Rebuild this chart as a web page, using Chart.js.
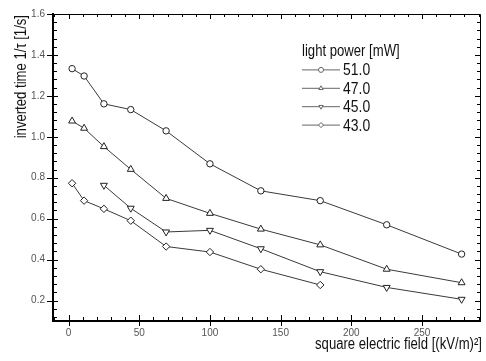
<!DOCTYPE html>
<html lang="en">
<head>
  <meta charset="UTF-8">
  <title>Inverted time vs square electric field</title>
  <script src="https://cdn.jsdelivr.net/npm/chart.js"></script>
  <style>
    body {
      margin: 0;
      background-color: #fff;
    }
    .chart-box {
      width: 486px;
      height: 361px;
    }
  </style>
</head>
<body>
  <div class="chart-box">
    <canvas id="tauChart"></canvas>
  </div>
  <script>
    // square electric field values (kV/m)^2
    var fieldSq = [2.5, 11, 25, 44, 69, 100, 136, 178, 225, 278];
    // inverted time 1/tau for each light power, null = not measured
    var p51 = [1.333, 1.297, 1.161, 1.133, 1.029, 0.868, 0.736, 0.688, 0.570, 0.427];
    var p47 = [1.077, 1.042, 0.952, 0.841, 0.699, 0.626, 0.549, 0.472, 0.353, 0.287];
    var p45 = [null, null, 0.763, 0.651, 0.535, 0.543, 0.453, 0.341, 0.264, 0.206];
    var p43 = [0.773, 0.688, 0.648, 0.590, 0.464, 0.437, 0.353, 0.276, null, null];
    var seriesNames = ['51.0', '47.0', '45.0', '43.0'];
    var xTicks = [0, 50, 100, 150, 200, 250];
    var yTicks = [0.2, 0.4, 0.6, 0.8, 1.0, 1.2, 1.4, 1.6];
    var xTitle = 'square electric field [(kV/m)²]';
    var yTitle = 'inverted time 1/τ [1/s]';
    var legendTitle = 'light power [mW]';

    var fontFam = "'Liberation Sans', Arial, sans-serif";
    var squeeze = 0.82; // the original uses a narrow face
    var lineColor = '#3a3a3a';

    function toPoints(values) {
      var pts = [];
      for (var i = 0; i < fieldSq.length; i++) {
        if (values[i] !== null) pts.push({ x: fieldSq[i], y: values[i] });
      }
      return pts;
    }

    function makeSet(name, values, style, rot, radius) {
      return {
        label: name,
        data: toPoints(values),
        borderColor: lineColor,
        borderWidth: 1,
        pointStyle: style,
        rotation: rot,
        pointRadius: radius,
        pointBorderWidth: 1,
        pointBorderColor: '#222',
        pointBackgroundColor: '#fff',
        tension: 0
      };
    }

    // narrow text: draw with a horizontal squeeze
    function narrowText(ctx, text, x, y, angle, align, size) {
      ctx.save();
      ctx.translate(x, y);
      ctx.rotate(angle);
      ctx.scale(squeeze, 1);
      ctx.font = size + 'px ' + fontFam;
      ctx.textAlign = align;
      ctx.textBaseline = 'alphabetic';
      ctx.fillText(text, 0, 0);
      ctx.restore();
    }

    // frame on top/right plus tick marks that cross the axes
    var frameTicks = {
      id: 'frameTicks',
      afterDatasetsDraw: function(chart) {
        var ctx = chart.ctx;
        var a = chart.chartArea;
        var xs = chart.scales.x;
        var ys = chart.scales.y;
        ctx.save();
        ctx.strokeStyle = '#000';
        ctx.lineWidth = 1;
        ctx.beginPath();
        ctx.moveTo(a.left, a.top + 0.5);
        ctx.lineTo(a.right + 0.5, a.top + 0.5);
        ctx.lineTo(a.right + 0.5, a.bottom);
        ctx.stroke();

        ctx.beginPath();
        var v, p;
        for (v = -10; v <= 290; v += 10) {
          p = Math.round(xs.getPixelForValue(v)) + 0.5;
          if (p <= a.left + 1 || p >= a.right) continue;
          if (v % 50 === 0) {
            ctx.moveTo(p, a.bottom - 6); ctx.lineTo(p, a.bottom + 5);
            ctx.moveTo(p, a.top); ctx.lineTo(p, a.top + 5);
          } else {
            ctx.moveTo(p, a.bottom - 4); ctx.lineTo(p, a.bottom);
            ctx.moveTo(p, a.top); ctx.lineTo(p, a.top + 3);
          }
        }
        for (var k = 3; k <= 40; k++) {
          v = k * 0.04;
          p = Math.round(ys.getPixelForValue(v)) + 0.5;
          if (p >= a.bottom - 1 || p < a.top) continue;
          if (k % 5 === 0) {
            ctx.moveTo(a.left - 6, p); ctx.lineTo(a.left + 5, p);
            ctx.moveTo(a.right, p); ctx.lineTo(a.right - 5, p);
          } else {
            ctx.moveTo(a.left, p); ctx.lineTo(a.left + 4, p);
            ctx.moveTo(a.right, p); ctx.lineTo(a.right - 3, p);
          }
        }
        ctx.stroke();
        ctx.restore();
      }
    };

    // axis titles and the legend inside the plot
    var labelsAndLegend = {
      id: 'labelsAndLegend',
      afterDraw: function(chart) {
        var ctx = chart.ctx;
        var a = chart.chartArea;
        ctx.save();
        ctx.fillStyle = '#111';
        narrowText(ctx, xTitle, a.right + 2, 348.5, 0, 'right', 16);
        narrowText(ctx, yTitle, 26, a.top + 1, -Math.PI / 2, 'right', 16);

        var x0 = 302, y0 = 51, rowH = 18.4;
        narrowText(ctx, legendTitle, x0, y0 + 5, 0, 'left', 16);
        chart.data.datasets.forEach(function(ds, i) {
          var y = y0 + (i + 1) * rowH;
          ctx.strokeStyle = '#666';
          ctx.lineWidth = 1;
          ctx.beginPath();
          ctx.moveTo(x0, y + 0.5);
          ctx.lineTo(x0 + 38, y + 0.5);
          ctx.stroke();
          ctx.fillStyle = '#fff';
          Chart.helpers.drawPoint(ctx, {
            pointStyle: ds.pointStyle, rotation: ds.rotation, radius: 2.5, borderWidth: 1
          }, x0 + 19, y + 0.5);
          ctx.fillStyle = '#111';
          narrowText(ctx, ds.label, x0 + 41, y + 6, 0, 'left', 17);
        });
        ctx.restore();
      }
    };

    var chart = new Chart(document.getElementById('tauChart').getContext('2d'), {
      type: 'line',
      data: {
        datasets: [
          makeSet(seriesNames[0], p51, 'circle', 0, 3.2),
          makeSet(seriesNames[1], p47, 'triangle', 0, 4),
          makeSet(seriesNames[2], p45, 'triangle', 180, 4),
          makeSet(seriesNames[3], p43, 'rectRot', 0, 3.7)
        ]
      },
      options: {
        responsive: true,
        maintainAspectRatio: false,
        animation: false,
        layout: { padding: { top: 10, right: 6, left: 0, bottom: 0 } },
        plugins: {
          legend: { display: false },
          tooltip: { enabled: false }
        },
        scales: {
          x: {
            type: 'linear',
            min: -11,
            max: 291,
            afterFit: function(s) { s.height = 40; },
            afterBuildTicks: function(s) {
              s.ticks = xTicks.map(function(v) { return { value: v }; });
            },
            grid: { display: false, drawTicks: false },
            border: { display: true, color: '#000', width: 2 },
            ticks: {
              padding: 6,
              color: '#555',
              font: { family: fontFam, size: 10 },
              callback: function(v) { return String(v); }
            }
          },
          y: {
            min: 0.1,
            max: 1.6,
            afterFit: function(s) { s.width = 53; },
            afterBuildTicks: function(s) {
              s.ticks = yTicks.map(function(v) { return { value: v }; });
            },
            grid: { display: false, drawTicks: false },
            border: { display: true, color: '#000', width: 2 },
            ticks: {
              padding: 8,
              color: '#555',
              font: { family: fontFam, size: 10 },
              callback: function(v) { return v.toFixed(1); }
            }
          }
        }
      },
      plugins: [frameTicks, labelsAndLegend]
    });
  </script>
</body>
</html>
